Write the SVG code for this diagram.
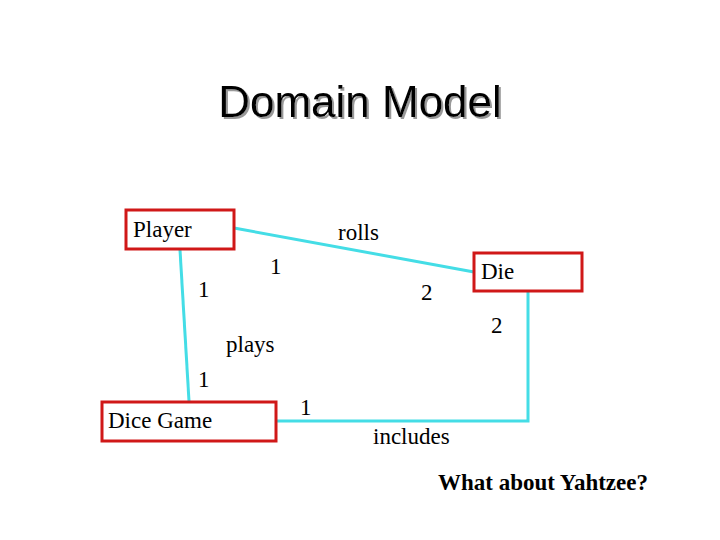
<svg xmlns="http://www.w3.org/2000/svg" width="720" height="540" viewBox="0 0 720 540">
<defs><filter id="sh" x="-10%" y="-20%" width="120%" height="150%"><feDropShadow dx="2" dy="2" stdDeviation="0.3" flood-color="#999"/></filter></defs>
<style>
.box{fill:#fff;stroke:#d01818;stroke-width:3}
.ln{fill:none;stroke:#44dde6;stroke-width:3}
.t{font-family:"Liberation Serif",serif;font-size:23px;fill:#000}
.ti{font-family:"Liberation Sans",sans-serif;font-size:44px}
</style>
<rect width="720" height="540" fill="#fff"/>
<text class="ti" x="360" y="117" text-anchor="middle" fill="#000" filter="url(#sh)">Domain Model</text>
<g id="connectors">
<line class="ln" x1="234" y1="228" x2="474" y2="272"/>
<line class="ln" x1="180" y1="250" x2="189" y2="401"/>
<polyline class="ln" points="528,292 528,421 277,421"/>
</g>
<g id="player"><rect class="box" x="126" y="210" width="108" height="39"/><text class="t" x="133" y="237">Player</text></g>
<g id="die"><rect class="box" x="474" y="253" width="108" height="38"/><text class="t" x="481" y="279">Die</text></g>
<g id="dicegame"><rect class="box" x="102" y="402" width="174" height="39"/><text class="t" x="108" y="428">Dice Game</text></g>
<g id="labels">
<text class="t" x="338" y="240">rolls</text>
<text class="t" x="270" y="274">1</text>
<text class="t" x="198" y="297">1</text>
<text class="t" x="421" y="300">2</text>
<text class="t" x="491" y="333">2</text>
<text class="t" x="226" y="352">plays</text>
<text class="t" x="198" y="387">1</text>
<text class="t" x="300" y="415">1</text>
<text class="t" x="373" y="444">includes</text>
<text class="t" x="438" y="490" font-weight="bold" font-size="26.6">What about Yahtzee?</text>
</g>
</svg>
